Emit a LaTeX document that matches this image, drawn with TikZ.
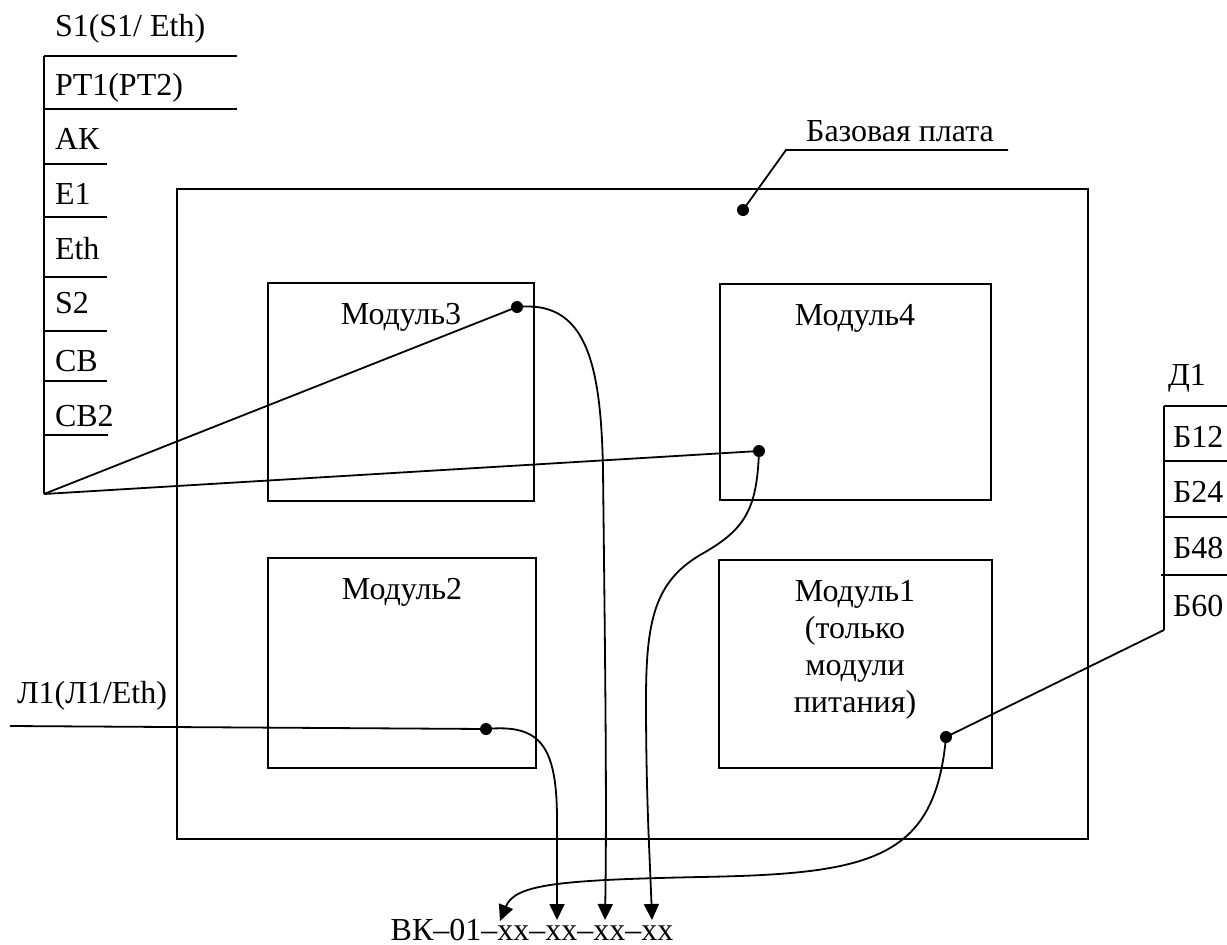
\documentclass[tikz,border=0pt]{standalone}
\usepackage{fontspec}
\setmainfont{Liberation Serif}
\usetikzlibrary{arrows.meta}
\begin{document}
\begin{tikzpicture}[x=1pt,y=-1pt, line width=1.8pt,
  every node/.style={font=\fontsize{32}{37}\selectfont, inner sep=0pt, outer sep=0pt},
  box/.style={draw, line width=1.8pt, anchor=north west},
  lbl/.style={anchor=base west},
  ctr/.style={anchor=base},
  dotc/.style={circle, fill, inner sep=0pt, minimum size=12pt},
  arr/.style={-{Triangle[length=16pt,width=15pt]}}]
\useasboundingbox (0,0) rectangle (1227,945);

% left table
\coordinate (conv) at (44,494);
\coordinate (lt) at (44,56);
\draw (lt) -- (conv);
\draw (44,56) -- (237,56);
\draw (44,109) -- (237,109);
\draw (44,164) -- (107,164);
\draw (44,217) -- (107,217);
\draw (44,277) -- (107,277);
\draw (44,331) -- (107,331);
\draw (44,381) -- (107,381);
\draw (44,435) -- (108,435);
\node[lbl] (s1) at (55,36) {S1(S1/ Eth)};
\node[lbl] (pt) at (55,95) {PT1(PT2)};
\node[lbl] (ak) at (55,149) {АК};
\node[lbl] (e1) at (55,204) {E1};
\node[lbl] (eth) at (55,259) {Eth};
\node[lbl] (s2) at (55,313) {S2};
\node[lbl] (cb) at (55,371) {CB};
\node[lbl] (cb2) at (55,426) {CB2};

% board
\node[box, minimum width=911pt, minimum height=650pt] (board) at (177,189) {};
\node[box, minimum width=266pt, minimum height=218pt] (m3) at (268,283) {};
\node[box, minimum width=271pt, minimum height=216pt] (m4) at (720,284) {};
\node[box, minimum width=268pt, minimum height=210pt] (m2) at (268,558) {};
\node[box, minimum width=273pt, minimum height=208pt] (m1) at (719,560) {};

\node[ctr] (m3t) at (401,324) {Модуль3};
\node[ctr] (m4t) at (855,325) {Модуль4};
\node[ctr] (m2t) at (402,599) {Модуль2};
\node[ctr] (m1a) at (855,601) {Модуль1};
\node[ctr] (m1b) at (855,638) {(только};
\node[ctr] (m1c) at (855,675) {модули};
\node[ctr] (m1d) at (855,712) {питания)};

% dots
\node[dotc] (db) at (743,210) {};
\node[dotc] (d3) at (517,307) {};
\node[dotc] (d4) at (759,451) {};
\node[dotc] (d2) at (486,729) {};
\node[dotc] (d1) at (946,737) {};

% base board label
\node[ctr] (bp) at (900,141) {Базовая плата};
\coordinate (bpl) at (786,150);
\coordinate (bpr) at (1008,150);
\draw (bpr) -- (bpl) -- (db.center);

% left connectors
\draw (conv) -- (d3.center);
\draw (conv) -- (d4.center);
\node[lbl] (l1) at (17,703) {Л1(Л1/Eth)};
\coordinate (l1s) at (10,726);
\draw (l1s) -- (d2.center);

% right table
\node[lbl] (d1t) at (1168,385) {Д1};
\coordinate (rt) at (1164,406);
\coordinate (rb) at (1164,630);
\draw (rt) -- (rb);
\draw (1164,406) -- (1227,406);
\draw (1164,461) -- (1227,461);
\draw (1164,517) -- (1227,517);
\draw (1161,575) -- (1227,575);
\node[lbl] (b12) at (1173,447) {Б12};
\node[lbl] (b24) at (1173,502) {Б24};
\node[lbl] (b48) at (1173,558) {Б48};
\node[lbl] (b60) at (1173,616) {Б60};
\draw (d1.center) -- (rb);

% bottom code
\node[ctr] (vk) at (532,940) {ВК–01–хх–хх–хх–хх};
\coordinate (t1) at (500,921);
\coordinate (t2) at (557,920);
\coordinate (t3) at (605,920);
\coordinate (t4) at (652,920);

% curves
\draw[arr] (d3.center) .. controls (585,300) and (601,360) .. (603,470)
  .. controls (605,650) and (607,800) .. (t3);
\draw[arr] (d4.center) .. controls (757,510) and (745,530) .. (700,555)
  .. controls (655,582) and (646,620) .. (646,700)
  .. controls (646,800) and (650,860) .. (t4);
\draw[arr] (d2.center) .. controls (540,724) and (557,745) .. (557,820) -- (t2);
\draw[arr] (d1.center) .. controls (935,860) and (870,874) .. (700,877)
  .. controls (560,880) and (515,884) .. (t1);
\end{tikzpicture}
\end{document}
